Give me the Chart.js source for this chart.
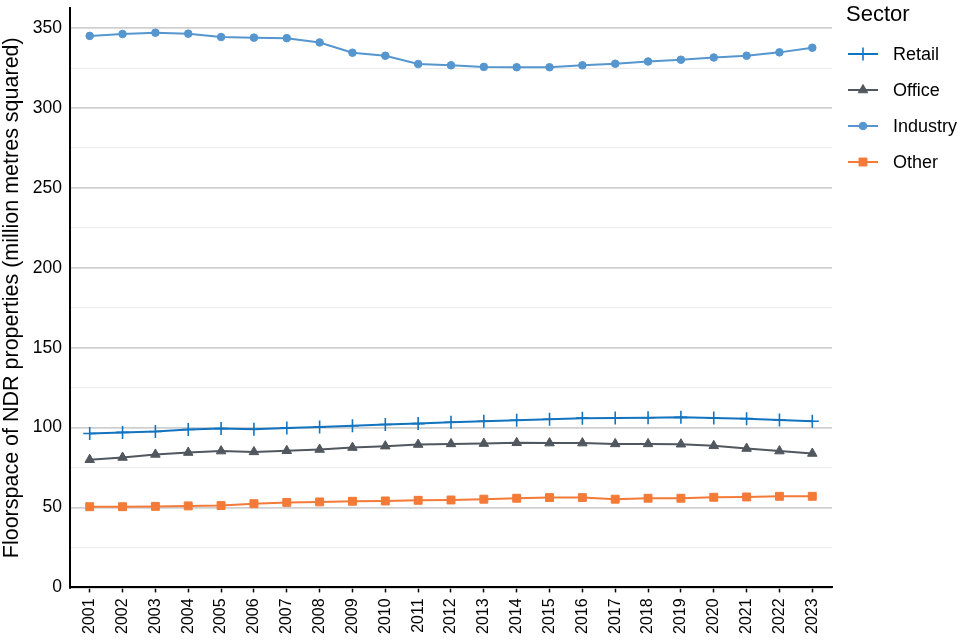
<!DOCTYPE html>
<html>
<head>
<meta charset="utf-8">
<script src="https://cdn.jsdelivr.net/npm/chart.js@4.4.1/dist/chart.umd.min.js"></script>
<style>
html,body{margin:0;padding:0;background:#fff;}
#wrap{width:960px;height:640px;}
</style>
</head>
<body>
<div id="wrap"><canvas id="c" width="960" height="640"></canvas></div>
<script>
const years = [2001,2002,2003,2004,2005,2006,2007,2008,2009,2010,2011,2012,2013,2014,2015,2016,2017,2018,2019,2020,2021,2022,2023];
const retail = [96.3,97.0,97.6,98.8,99.4,99.0,99.8,100.4,101.2,101.9,102.5,103.3,104.0,104.6,105.2,105.9,106.0,106.2,106.4,106.0,105.6,104.8,104.0];
const office = [79.9,81.3,83.2,84.4,85.3,84.8,85.5,86.3,87.5,88.4,89.4,89.8,90.0,90.5,90.3,90.3,89.8,89.8,89.6,88.6,86.9,85.3,83.8];
const industry = [345.1,346.3,347.1,346.5,344.4,344.0,343.7,341.0,334.6,332.7,327.5,326.7,325.7,325.5,325.5,326.7,327.7,329.1,330.2,331.6,332.7,334.8,337.7];
const other = [50.5,50.5,50.7,51.0,51.2,52.4,53.2,53.5,53.9,54.1,54.5,54.7,55.2,55.8,56.2,56.2,55.2,55.8,55.8,56.4,56.6,57.0,57.0];
const seriesNames = ['Retail','Office','Industry','Other'];
const legendTitle = 'Sector';
const yTitle = 'Floorspace of NDR properties (million metres squared)';
const yTicks = [0,25,50,75,100,125,150,175,200,225,250,275,300,325,350];

const FONT = "'Liberation Sans', Arial, Helvetica, sans-serif";
const colors = ['#1273bf','#50575e','#5596cf','#f47a38'];
const styles = [
  {pointStyle:'cross', radius:6.5, bw:1.6},
  {pointStyle:'triangle', radius:5.5, bw:1},
  {pointStyle:'circle', radius:3.8, bw:1},
  {pointStyle:'rect', radius:5.6, bw:1}
];
const seriesData = [retail, office, industry, other];

const datasets = seriesData.map((arr, i) => ({
  label: seriesNames[i],
  data: arr.map((v, j) => ({x: years[j], y: v})),
  borderColor: colors[i],
  backgroundColor: colors[i],
  borderWidth: 2,
  pointStyle: styles[i].pointStyle,
  pointRadius: styles[i].radius,
  pointBorderWidth: styles[i].bw,
  pointBackgroundColor: colors[i],
  pointBorderColor: colors[i],
  tension: 0,
  fill: false
}));

const legendPlugin = {
  id: 'customLegend',
  afterDraw(chart) {
    const ctx = chart.ctx;
    ctx.save();
    ctx.fillStyle = '#000';
    ctx.textBaseline = 'middle';
    ctx.textAlign = 'left';
    ctx.font = '22px ' + FONT;
    ctx.fillText(legendTitle, 846, 15);
    chart.data.datasets.forEach((ds, i) => {
      const y = 54 + i * 36;
      ctx.strokeStyle = ds.borderColor;
      ctx.lineWidth = 2;
      ctx.beginPath();
      ctx.moveTo(848, y);
      ctx.lineTo(878, y);
      ctx.stroke();
      ctx.fillStyle = ds.borderColor;
      ctx.strokeStyle = ds.borderColor;
      ctx.lineWidth = ds.pointBorderWidth;
      Chart.helpers.drawPoint(ctx, {pointStyle: ds.pointStyle, radius: ds.pointRadius, borderWidth: ds.pointBorderWidth, rotation: 0}, 863, y);
      ctx.fillStyle = '#000';
      ctx.font = '18px ' + FONT;
      ctx.fillText(ds.label, 893, y + 1);
    });
    ctx.restore();
  }
};

new Chart(document.getElementById('c'), {
  type: 'line',
  data: { datasets },
  plugins: [legendPlugin],
  options: {
    responsive: false,
    devicePixelRatio: 1,
    animation: false,
    layout: { padding: { left: -1, right: 128, top: 5, bottom: 0 } },
    plugins: { legend: { display: false }, tooltip: { enabled: false } },
    scales: {
      x: {
        type: 'linear',
        min: 2000.4,
        max: 2023.6,
        afterBuildTicks(axis) { axis.ticks = years.map(v => ({value: v})); },
        afterFit(axis) { axis.paddingLeft = 0; axis.paddingRight = 0; },
        ticks: {
          autoSkip: false,
          maxRotation: 90,
          minRotation: 90,
          color: '#000',
          font: { family: FONT, size: 16 },
          padding: 6,
          callback: (v) => String(v)
        },
        grid: { display: true, drawOnChartArea: false, drawTicks: true, tickLength: 5, color: '#000', tickWidth: 1.5 },
        border: { display: true, color: '#000', width: 2 }
      },
      y: {
        min: 0,
        max: 362.5,
        afterBuildTicks(axis) { axis.ticks = yTicks.map(v => ({value: v})); },
        afterFit(axis) { axis.paddingTop = 0; axis.paddingBottom = 0; },
        ticks: {
          color: '#000',
          font: { family: FONT, size: 17.5 },
          padding: 8,
          callback: (v) => (v % 50 === 0 ? String(v) : '')
        },
        grid: {
          drawTicks: false,
          color: (c) => (c.tick && c.tick.value % 50 === 0 ? '#cfcfcf' : '#ebebeb'),
          lineWidth: (c) => (c.tick && c.tick.value % 50 === 0 ? 1.8 : 1)
        },
        border: { display: true, color: '#000', width: 2 },
        title: {
          display: true,
          text: yTitle,
          color: '#000',
          font: { family: FONT, size: 21.5 },
          padding: { top: 0, bottom: 0 }
        }
      }
    }
  }
});
</script>
</body>
</html>
